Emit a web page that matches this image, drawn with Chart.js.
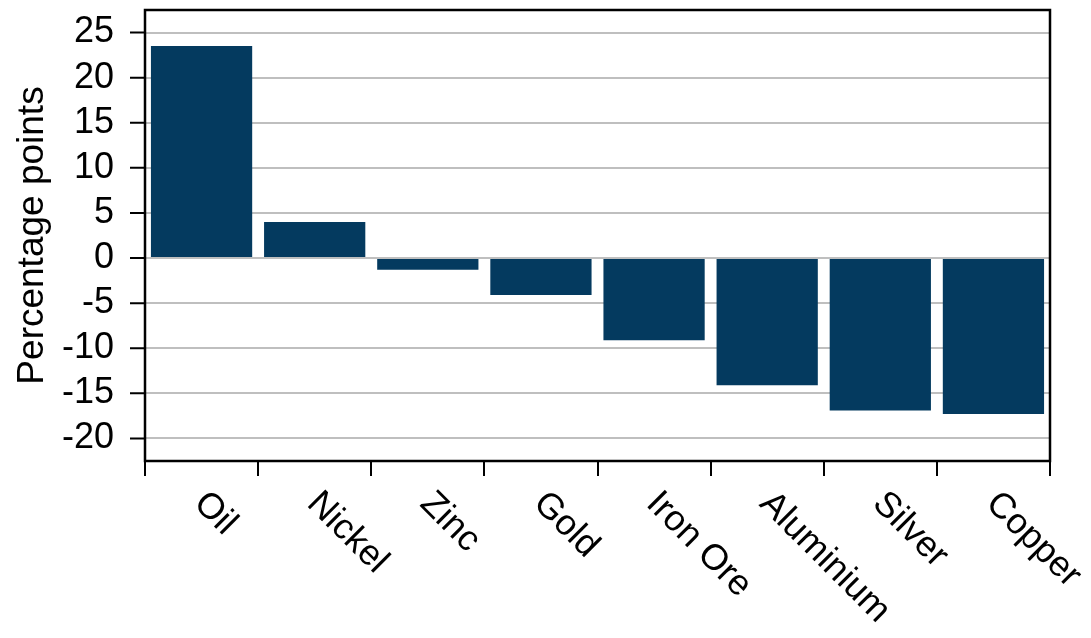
<!DOCTYPE html>
<html>
<head>
<meta charset="utf-8">
<script src="https://cdn.jsdelivr.net/npm/chart.js@4.4.1/dist/chart.umd.min.js"></script>
<style>
  body { margin: 0; background: #fff; }
  #wrap { width: 1091px; height: 638px; position: relative; }
</style>
</head>
<body>
<div id="wrap"><canvas id="myChart"></canvas></div>
<script>
'use strict'
let commodities = ['Oil', 'Nickel', 'Zinc', 'Gold', 'Iron Ore', 'Aluminium', 'Silver', 'Copper'];
let changePts = [23.5, 4.0, -1.3, -4.1, -9.1, -14.1, -16.9, -17.3];
let yTicks = [-20, -15, -10, -5, 0, 5, 10, 15, 20, 25];
let yMin = -22.5;
let yMax = 27.5;

const fontFamily = '"Liberation Sans", Arial, sans-serif';

// box round the plot, black y tick marks, rotated category labels
const extras = {
    id: 'extras',
    afterDraw(chart) {
        let ctx = chart.ctx;
        let area = chart.chartArea;
        let xScale = chart.scales.x;
        let yScale = chart.scales.y;
        ctx.save();
        ctx.strokeStyle = '#000';
        ctx.lineWidth = 2.5;
        ctx.strokeRect(area.left, area.top, area.right - area.left, area.bottom - area.top);

        ctx.lineWidth = 2;
        ctx.beginPath();
        for (let i = 0; i < yTicks.length; i++) {
            let y = yScale.getPixelForValue(yTicks[i]);
            ctx.moveTo(area.left - 15, y);
            ctx.lineTo(area.left, y);
        }
        ctx.stroke();

        ctx.fillStyle = '#000';
        ctx.font = '36px ' + fontFamily;
        ctx.textAlign = 'left';
        ctx.textBaseline = 'middle';
        for (let i = 0; i < commodities.length; i++) {
            let x = xScale.getPixelForValue(i);
            ctx.save();
            ctx.translate(x - 2, area.bottom + 37);
            ctx.rotate(Math.PI / 4);
            ctx.fillText(commodities[i], 0, 0);
            ctx.restore();
        }
        ctx.restore();
    }
};

var ctx = document.getElementById('myChart').getContext('2d');
var myChart = new Chart(ctx, {
    type: 'bar',
    data: {
        labels: commodities,
        datasets: [{
            data: changePts,
            backgroundColor: '#043a5f',
            borderWidth: 0,
            barPercentage: 0.895,
            categoryPercentage: 1.0
        }]
    },
    options: {
        responsive: true,
        maintainAspectRatio: false,
        animation: false,
        layout: { padding: { top: 10, right: 41, left: 0, bottom: 0 } },
        plugins: {
            legend: { display: false },
            tooltip: { enabled: false }
        },
        scales: {
            x: {
                offset: true,
                grid: {
                    offset: true,
                    drawOnChartArea: false,
                    color: '#000',
                    lineWidth: 2,
                    tickLength: 15
                },
                border: { display: false },
                ticks: { display: false },
                afterFit(scale) {
                    scale.height = 177;
                    scale.paddingLeft = 0;
                    scale.paddingRight = 0;
                }
            },
            y: {
                min: yMin,
                max: yMax,
                afterBuildTicks(scale) {
                    scale.ticks = yTicks.map(v => ({ value: v }));
                },
                grid: {
                    color: '#bfbfbf',
                    lineWidth: 2,
                    drawTicks: false
                },
                border: { display: false },
                ticks: {
                    color: '#000',
                    padding: 31,
                    autoSkip: false,
                    font: { family: fontFamily, size: 36 }
                },
                title: {
                    display: true,
                    text: 'Percentage points',
                    color: '#000',
                    font: { family: fontFamily, size: 37 },
                    padding: { top: 11, bottom: 0 }
                },
                afterFit(scale) {
                    scale.width = 145;
                    scale.paddingTop = 0;
                    scale.paddingBottom = 0;
                }
            }
        }
    },
    plugins: [extras]
});
</script>
</body>
</html>
